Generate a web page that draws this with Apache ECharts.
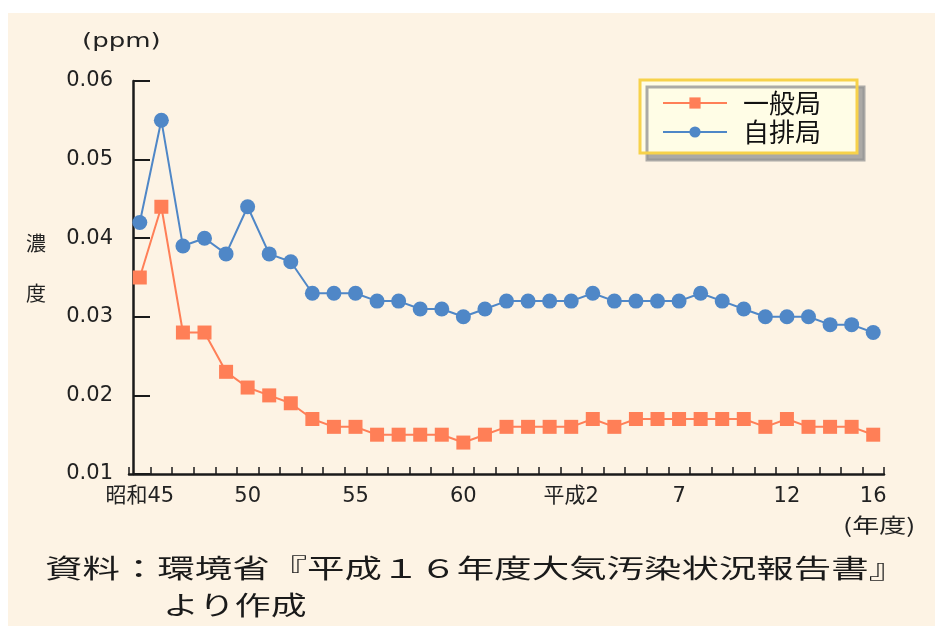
<!DOCTYPE html>
<html>
<head>
<meta charset="utf-8">
<script src="https://cdn.jsdelivr.net/npm/echarts@6/dist/echarts.min.js"></script>
<style>
html,body{margin:0;padding:0;background:#ffffff;}
#chart{width:935px;height:626px;}
</style>
</head>
<body>
<div id="chart"></div>
<script>
// Fiscal years: 昭和45 (1970) – 平成16 (2004)
const categories = ['昭和45','46','47','48','49','50','51','52','53','54','55','56','57','58','59','60','61','62','63','平成元','平成2','3','4','5','6','7','8','9','10','11','12','13','14','15','16'];
const shownLabels = ['昭和45','50','55','60','平成2','7','12','16'];
// 一般局 (general monitoring stations), ppm
const ippanValues = [0.035,0.044,0.028,0.028,0.023,0.021,0.020,0.019,0.017,0.016,0.016,0.015,0.015,0.015,0.015,0.014,0.015,0.016,0.016,0.016,0.016,0.017,0.016,0.017,0.017,0.017,0.017,0.017,0.017,0.016,0.017,0.016,0.016,0.016,0.015];
// 自排局 (roadside monitoring stations), ppm
const jihaiValues = [0.042,0.055,0.039,0.040,0.038,0.044,0.038,0.037,0.033,0.033,0.033,0.032,0.032,0.031,0.031,0.030,0.031,0.032,0.032,0.032,0.032,0.033,0.032,0.032,0.032,0.032,0.033,0.032,0.031,0.030,0.030,0.030,0.029,0.029,0.028];
const seriesNames = ['一般局','自排局'];

const chart = echarts.init(document.getElementById('chart'));
const jp = '"Noto Sans CJK JP", sans-serif';
const num = '"DejaVu Sans", "Noto Sans CJK JP", sans-serif';

chart.setOption({
  backgroundColor: '#ffffff',
  animation: false,
  graphic: [
    { type: 'rect', z: -10, shape: { x: 8, y: 13, width: 927, height: 613 }, style: { fill: '#fdf3e4' } },
    { type: 'text', x: 82, y: 42, scaleX: 1.3, style: { text: '(ppm)', font: '20px ' + num, fill: '#222', textVerticalAlign: 'middle' } },
    { type: 'text', x: 26, y: 243, style: { text: '濃', font: '20px ' + jp, fill: '#222', textVerticalAlign: 'middle' } },
    { type: 'text', x: 26, y: 293, style: { text: '度', font: '20px ' + jp, fill: '#222', textVerticalAlign: 'middle' } },
    { type: 'text', x: 843, y: 525, scaleX: 1.35, style: { text: '(年度)', font: '20px ' + jp, fill: '#222', textVerticalAlign: 'middle' } },
    { type: 'text', x: 45, y: 568, scaleX: 1.44, style: { text: '資料：環境省『平成１６年度大気汚染状況報告書』', font: '26px ' + jp, fill: '#1a1a1a', textVerticalAlign: 'middle' } },
    { type: 'text', x: 163, y: 605, scaleX: 1.38, style: { text: 'より作成', font: '26px ' + jp, fill: '#1a1a1a', textVerticalAlign: 'middle' } }
  ],
  legend: {
    data: seriesNames,
    left: 640,
    top: 80,
    orient: 'vertical',
    backgroundColor: '#fffde6',
    borderColor: '#f7d24a',
    borderWidth: 3,
    shadowColor: 'rgba(150,150,150,0.8)',
    shadowBlur: 0,
    shadowOffsetX: 7,
    shadowOffsetY: 7,
    padding: [10, 36, 8, 22],
    itemWidth: 64,
    itemHeight: 14,
    itemGap: 3,
    textStyle: { fontSize: 26, fontFamily: jp, color: '#111', padding: [0, 0, 0, 11] }
  },
  grid: { left: 129, right: 51, top: 81, bottom: 152 },
  xAxis: {
    type: 'category',
    data: categories,
    boundaryGap: true,
    axisLine: { lineStyle: { color: '#1a1a1a', width: 2.5 } },
    axisTick: { show: true, inside: true, length: 7, interval: 0, lineStyle: { color: '#1a1a1a', width: 1.5 } },
    axisLabel: {
      interval: function (index, value) { return shownLabels.indexOf(value) >= 0; },
      margin: 12,
      fontSize: 21,
      fontFamily: num,
      color: '#222'
    },
    splitLine: { show: false }
  },
  yAxis: {
    type: 'value',
    min: 0.01,
    max: 0.06,
    interval: 0.01,
    offset: -4,
    axisLine: { show: true, lineStyle: { color: '#1a1a1a', width: 2.5 } },
    axisTick: { show: true, inside: true, length: 17, lineStyle: { color: '#1a1a1a', width: 2 } },
    axisLabel: { margin: 20, fontSize: 21, fontFamily: num, color: '#222',
      formatter: function (v) { return v.toFixed(2); } },
    splitLine: { show: false }
  },
  series: [
    {
      name: seriesNames[0],
      type: 'line',
      data: ippanValues,
      symbol: 'rect',
      symbolSize: 14,
      showAllSymbol: true,
      itemStyle: { color: '#ff7f57' },
      lineStyle: { color: '#ff7f57', width: 2 }
    },
    {
      name: seriesNames[1],
      type: 'line',
      data: jihaiValues,
      symbol: 'circle',
      symbolSize: 15,
      showAllSymbol: true,
      itemStyle: { color: '#4f87c7' },
      lineStyle: { color: '#4f87c7', width: 2 }
    }
  ]
});
</script>
</body>
</html>
